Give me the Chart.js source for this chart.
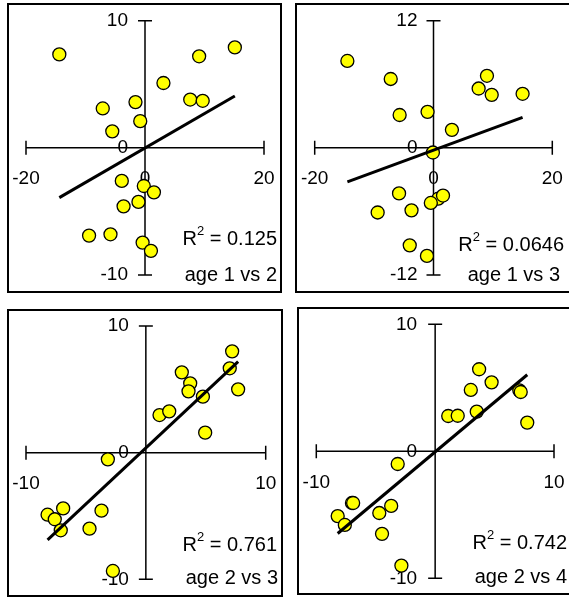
<!DOCTYPE html>
<html><head><meta charset="utf-8">
<script src="https://cdn.jsdelivr.net/npm/chart.js@4.4.1/dist/chart.umd.min.js"></script>
<style>
html,body{margin:0;padding:0;background:#fff;width:569px;height:598px;overflow:hidden}
.box{position:absolute;border:2px solid #000;box-sizing:border-box}
canvas{position:absolute;left:0;top:0}
</style></head><body>
<div class="box" style="left:7px;top:3px;width:275px;height:290px"></div>
<div class="box" style="left:295px;top:3px;width:280px;height:290px"></div>
<div class="box" style="left:7px;top:309px;width:276px;height:288px"></div>
<div class="box" style="left:297px;top:307px;width:280px;height:288px"></div>
<canvas id="c1" width="569" height="598"></canvas>
<canvas id="c2" width="569" height="598"></canvas>
<canvas id="c3" width="569" height="598"></canvas>
<canvas id="c4" width="569" height="598"></canvas>
<script>
// ---- data ----
const p1x = [-14.4, 15.1, 9.1, 3.1, -1.6, -7.1, 7.6, 9.7, -0.8, -5.5, -3.9, -0.2, 1.5, -1.1, -3.6, -9.4, -5.8, -0.4, 1.0];
const p1y = [7.35, 7.9, 7.2, 5.1, 3.6, 3.1, 3.8, 3.7, 2.1, 1.3, -2.6, -3.0, -3.5, -4.25, -4.6, -6.9, -6.8, -7.45, -8.1];
const p2x = [-14.5, -7.2, 9.0, 7.6, 9.8, 15.0, -5.7, -1.0, 3.1, -0.1, -5.8, 0.8, 1.6, -0.45, -9.4, -3.7, -4.0, -1.1];
const p2y = [8.2, 6.5, 6.8, 5.6, 5.0, 5.1, 3.1, 3.4, 1.7, -0.44, -4.3, -4.8, -4.5, -5.2, -6.1, -5.9, -9.2, -10.2];
const p3x = [7.2, 7.0, 3.0, 3.7, 3.56, 7.7, 4.76, 1.14, 1.95, 4.95, -3.17, -6.9, -8.2, -7.6, -7.1, -3.7, -4.7, -2.75];
const p3y = [8.0, 6.66, 6.34, 5.47, 4.84, 5.0, 4.42, 2.97, 3.26, 1.58, -0.53, -4.4, -4.9, -5.26, -6.13, -4.58, -6.0, -9.34];
const p4x = [3.7, 4.75, 3.0, 7.08, 7.2, 7.75, 3.5, 1.1, 1.9, -3.15, -7.0, -6.9, -8.2, -7.6, -4.7, -3.7, -4.47, -2.84];
const p4y = [6.46, 5.43, 4.83, 4.8, 4.67, 2.26, 3.12, 2.78, 2.8, -1.0, -4.07, -4.07, -5.1, -5.8, -4.86, -4.3, -6.5, -9.0];

const xTicks12 = [-20, 0, 20];
const xTicks34 = [-10, 0, 10];
const yTicks1 = [-10, 0, 10];
const yTicks2 = [-12, 0, 12];
const yTicks34 = [-10, 0, 10];
const xLabels12 = ['-20', '0', '20'];
const xLabels34 = ['-10', '', '10'];
const r2Values = ['0.125', '0.0646', '0.761', '0.742'];
const panelNames = ['age 1 vs 2', 'age 1 vs 3', 'age 2 vs 3', 'age 2 vs 4'];

// ---- helpers ----
function fit(xs, ys) {
  const n = xs.length;
  const mx = xs.reduce((a, b) => a + b, 0) / n;
  const my = ys.reduce((a, b) => a + b, 0) / n;
  let sxy = 0, sxx = 0;
  for (let i = 0; i < n; i++) { sxy += (xs[i] - mx) * (ys[i] - my); sxx += (xs[i] - mx) ** 2; }
  const b = sxy / sxx, a = my - b * mx;
  const lo = Math.min(...xs), hi = Math.max(...xs);
  return [{ x: lo, y: a + b * lo }, { x: hi, y: a + b * hi }];
}
const TICKFONT = '19px "Liberation Sans", Arial, sans-serif';
const FONT = '20px "Liberation Sans", Arial, sans-serif';
const SUPFONT = '13px "Liberation Sans", Arial, sans-serif';

const panelAxes = {
  id: 'panelAxes',
  beforeDatasetsDraw(chart, args, o) {
    const ctx = chart.ctx, xs = chart.scales.x, ys = chart.scales.y;
    const x0 = xs.getPixelForValue(0), y0 = ys.getPixelForValue(0);
    const xl = xs.getPixelForValue(o.xTicks[0]), xr = xs.getPixelForValue(o.xTicks[2]);
    const yt = ys.getPixelForValue(o.yTicks[2]), yb = ys.getPixelForValue(o.yTicks[0]);
    ctx.save();
    ctx.strokeStyle = '#000'; ctx.lineWidth = 1.5;
    ctx.beginPath();
    ctx.moveTo(xl, y0); ctx.lineTo(xr, y0);
    ctx.moveTo(x0, yt); ctx.lineTo(x0, yb);
    for (const v of o.xTicks) { const p = xs.getPixelForValue(v); ctx.moveTo(p, y0 - 7); ctx.lineTo(p, y0 + 7); }
    for (const v of o.yTicks) { const p = ys.getPixelForValue(v); ctx.moveTo(x0 - 7, p); ctx.lineTo(x0 + 7, p); }
    ctx.stroke();
    ctx.fillStyle = '#000'; ctx.font = TICKFONT;
    ctx.textAlign = 'center'; ctx.textBaseline = 'middle';
    o.xTicks.forEach((v, i) => { if (o.xLabels[i]) ctx.fillText(o.xLabels[i], xs.getPixelForValue(v), y0 + 31); });
    ctx.textAlign = 'right';
    o.yTicks.forEach((v, i) => { ctx.fillText(String(v), x0 - o.yOff, ys.getPixelForValue(v)); });
    ctx.restore();
  },
  afterDatasetsDraw(chart, args, o) {
    const ctx = chart.ctx;
    ctx.save();
    ctx.fillStyle = '#000'; ctx.textBaseline = 'middle'; ctx.textAlign = 'left';
    ctx.font = FONT;
    const wR = ctx.measureText('R').width;
    const rest = ' = ' + o.r2;
    const wRest = ctx.measureText(rest).width;
    ctx.font = SUPFONT;
    const w2 = ctx.measureText('2').width;
    let x = o.r2Pos[0] - (wR + w2 + wRest);
    const cy = o.r2Pos[1];
    ctx.font = FONT; ctx.fillText('R', x, cy); x += wR;
    ctx.font = SUPFONT; ctx.fillText('2', x, cy - 8); x += w2;
    ctx.font = FONT; ctx.fillText(rest, x, cy);
    ctx.textAlign = 'right';
    ctx.fillText(o.name, o.namePos[0], o.namePos[1]);
    ctx.restore();
  }
};

function makePanel(id, xs, ys, cfg) {
  const pts = xs.map((v, i) => ({ x: v, y: ys[i] }));
  new Chart(document.getElementById(id), {
    type: 'scatter',
    data: {
      datasets: [
        { type: 'line', data: fit(xs, ys), borderColor: '#000', borderWidth: 3, pointRadius: 0, fill: false, clip: false },
        { data: pts, backgroundColor: '#ffff00', borderColor: '#000', borderWidth: 1.3, pointRadius: 6.5, clip: false }
      ]
    },
    options: {
      responsive: false, animation: false, devicePixelRatio: 1,
      layout: { padding: { left: cfg.px[0], right: 569 - cfg.px[1], top: cfg.py[0], bottom: 598 - cfg.py[1] } },
      scales: {
        x: { type: 'linear', min: cfg.xTicks[0], max: cfg.xTicks[2], display: false },
        y: { type: 'linear', min: cfg.yTicks[0], max: cfg.yTicks[2], display: false }
      },
      plugins: {
        legend: { display: false }, tooltip: { enabled: false },
        panelAxes: cfg
      }
    },
    plugins: [panelAxes]
  });
}

makePanel('c1', p1x, p1y, { px: [26, 264], py: [20.7, 275], xTicks: xTicks12, yTicks: yTicks1, xLabels: xLabels12, yOff: 17, r2: r2Values[0], name: panelNames[0], r2Pos: [277, 239], namePos: [277, 275] });
makePanel('c2', p2x, p2y, { px: [314.7, 552.3], py: [20.7, 275], xTicks: xTicks12, yTicks: yTicks2, xLabels: xLabels12, yOff: 16, r2: r2Values[1], name: panelNames[1], r2Pos: [564, 245], namePos: [560, 275] });
makePanel('c3', p3x, p3y, { px: [26, 265.7], py: [326, 579.3], xTicks: xTicks34, yTicks: yTicks34, xLabels: xLabels34, yOff: 17, r2: r2Values[2], name: panelNames[2], r2Pos: [277, 545], namePos: [278, 578] });
makePanel('c4', p4x, p4y, { px: [316.3, 554], py: [324.3, 578.3], xTicks: xTicks34, yTicks: yTicks34, xLabels: xLabels34, yOff: 18, r2: r2Values[3], name: panelNames[3], r2Pos: [567, 543], namePos: [567, 577] });
</script>
</body></html>
